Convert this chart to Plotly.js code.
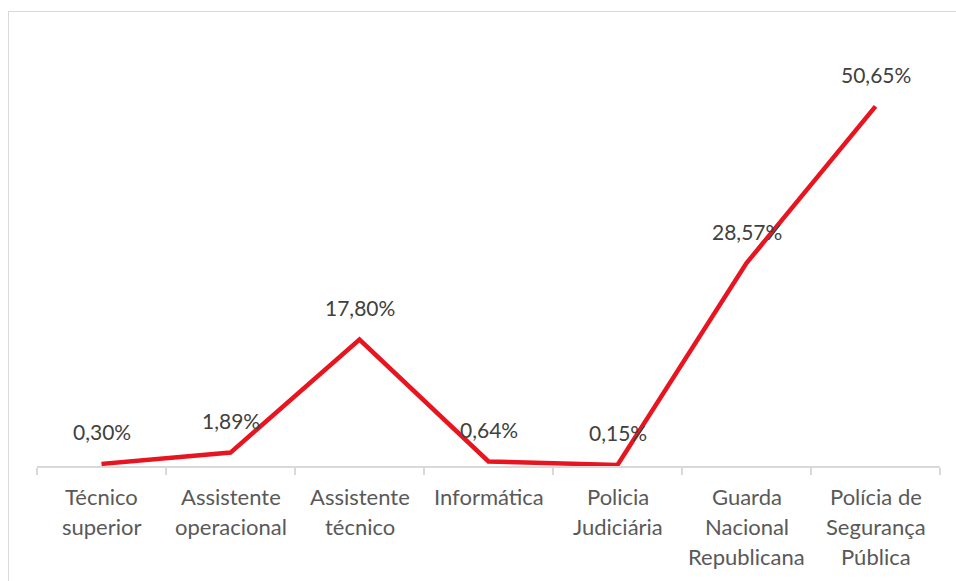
<!DOCTYPE html>
<html>
<head>
<meta charset="utf-8">
<script src="https://cdn.plot.ly/plotly-3.0.1.min.js"></script>
<style>
html,body{margin:0;padding:0;background:#fff;}
#wrap{position:relative;width:956px;height:581px;overflow:hidden;}
#chart{width:956px;height:581px;}
#frame{position:absolute;left:8px;top:11px;width:1000px;height:700px;border-left:1.5px solid #d9d9d9;border-top:1.5px solid #d9d9d9;pointer-events:none;}
</style>
</head>
<body>
<div id="wrap"><div id="chart"></div><div id="frame"></div></div>
<script>
const categories = [
  ["Técnico", "superior"],
  ["Assistente", "operacional"],
  ["Assistente", "técnico"],
  ["Informática"],
  ["Policia", "Judiciária"],
  ["Guarda", "Nacional", "Republicana"],
  ["Polícia de", "Segurança", "Pública"]
];
const values = [0.30, 1.89, 17.80, 0.64, 0.15, 28.57, 50.65];
const valueLabels = ["0,30%", "1,89%", "17,80%", "0,64%", "0,15%", "28,57%", "50,65%"];

const catNames = categories.map(c => c.join(" "));
const font = "Lato, 'Open Sans', sans-serif";

const annotations = [];
values.forEach((v, i) => {
  annotations.push({
    x: catNames[i], y: v, xref: 'x', yref: 'y',
    text: valueLabels[i], showarrow: false,
    yanchor: 'middle', yshift: 32,
    font: {family: font, size: 21, color: '#404040'}
  });
});
categories.forEach((lines, i) => {
  lines.forEach((ln, j) => {
    annotations.push({
      x: catNames[i], y: 0, xref: 'x', yref: 'paper',
      text: ln, showarrow: false,
      yanchor: 'middle', yshift: -(30 + 30 * j),
      font: {family: font, size: 22, color: '#595959'}
    });
  });
});

const trace = {
  x: catNames, y: values, type: 'scatter', mode: 'lines',
  line: {color: '#E8141F', width: 4.5},
  hoverinfo: 'skip'
};

const layout = {
  width: 956, height: 581,
  margin: {l: 37, r: 16, t: 40, b: 115},
  paper_bgcolor: '#fff', plot_bgcolor: '#fff',
  showlegend: false,
  xaxis: {
    type: 'category', range: [-0.5, 6.5],
    tickson: 'boundaries', ticks: 'outside', ticklen: 7, tickwidth: 1.5, tickcolor: '#d9d9d9',
    showticklabels: false, showline: true, linecolor: '#d9d9d9', linewidth: 1.5,
    showgrid: false, zeroline: false, fixedrange: true
  },
  yaxis: {
    range: [0, 60], visible: false, showgrid: false, zeroline: false, fixedrange: true
  },
  annotations: annotations
};

Plotly.newPlot('chart', [trace], layout, {displayModeBar: false, staticPlot: true});
</script>
</body>
</html>
